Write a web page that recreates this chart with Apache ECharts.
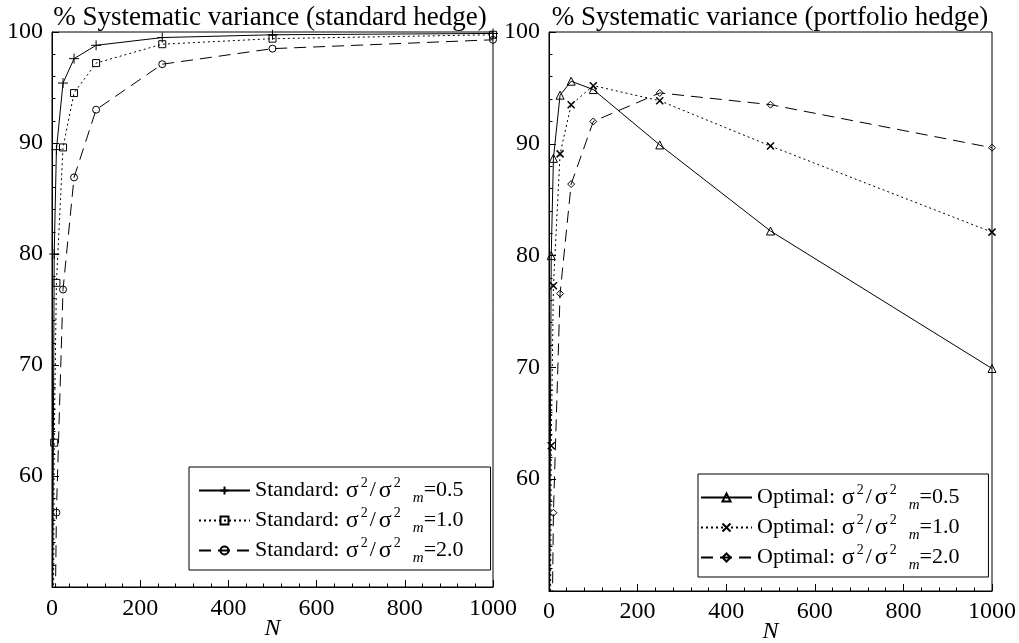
<!DOCTYPE html>
<html><head><meta charset="utf-8">
<script src="https://cdn.jsdelivr.net/npm/echarts@6/dist/echarts.min.js"></script>
<style>html,body{margin:0;padding:0;background:#fff}#c{width:1019px;height:643px}</style>
</head><body><div id="c"></div>
<script>
// ---- data ----
const N = [1, 5, 10, 25, 50, 100, 250, 500, 1000];
const std05 = [44.4, 80.0, 89.4, 95.4, 97.6, 98.8, 99.5, 99.75, 99.87];
const std10 = [25.4, 63.0, 77.4, 89.6, 94.5, 97.2, 98.9, 99.4, 99.75];
const std20 = [11.6, 39.6, 56.7, 76.8, 86.9, 93.0, 97.1, 98.5, 99.3];
const opt05 = [44.4, 80.0, 88.7, 94.35, 95.6, 94.85, 89.9, 82.2, 69.9];
const opt10 = [25.4, 63.0, 77.3, 89.1, 93.5, 95.2, 93.85, 89.8, 82.1];
const opt20 = [11.6, 39.6, 57.0, 76.6, 86.4, 92.0, 94.55, 93.5, 89.65];
const ratios = ['0.5', '1.0', '2.0'];
const titles = ['% Systematic variance (standard hedge)', '% Systematic variance (portfolio hedge)'];
const xName = 'N';

const F = "'Liberation Serif','DejaVu Serif',serif";
const BLACK = '#000';
const rich = {
  t: {fontFamily: F, fontSize: 22, lineHeight: 26, color: BLACK},
  g: {fontFamily: F, fontSize: 24, lineHeight: 26, color: BLACK, padding: [0, 1, 0, 1]},
  s: {fontFamily: F, fontSize: 22, lineHeight: 26, color: BLACK, padding: [0, 2, 0, 2]},
  sup: {fontFamily: F, fontSize: 14, lineHeight: 26, padding: [0, 0, 14, 1], color: BLACK},
  sub: {fontFamily: F, fontSize: 15, fontStyle: 'italic', lineHeight: 26, padding: [16, 0, 0, 12], color: BLACK}
};
function legendText(prefix, r) {
  return '{t|' + prefix + ': }{g|σ}{sup|2}{s|/}{g|σ}{sup|2}{sub|m}{t|=' + r + '}';
}

const PLUS = 'path://M5,0L5,10M0,5L10,5';
const CROSS = 'path://M0,0L10,10M10,0L0,10';
const dashes = ['solid', [2, 3], [12, 7]];
const stdSyms = [[PLUS, 10], ['rect', 7], ['circle', 7]];
const optSyms = [['triangle', 8], [CROSS, 7], ['diamond', 7]];

function mk(name, arr, idx, dash, sym, size, bw) {
  return {
    name: name, type: 'line', xAxisIndex: idx, yAxisIndex: idx,
    data: N.map((n, i) => [n, arr[i]]),
    symbol: sym, symbolSize: size, showAllSymbol: true, clip: true,
    lineStyle: {color: BLACK, width: 1, type: dash},
    itemStyle: {color: 'none', borderColor: BLACK, borderWidth: bw || 1},
    emphasis: {disabled: true}, silent: true
  };
}
const stdNames = ratios.map(r => 'Standard ' + r);
const optNames = ratios.map(r => 'Optimal ' + r);
const stdData = [std05, std10, std20];
const optData = [opt05, opt10, opt20];
const series = [];
for (let i = 0; i < 3; i++) series.push(mk(stdNames[i], stdData[i], 0, dashes[i], stdSyms[i][0], stdSyms[i][1]));
for (let i = 0; i < 3; i++) series.push(mk(optNames[i], optData[i], 1, dashes[i], optSyms[i][0], optSyms[i][1], i === 1 ? 1.5 : 1));

function xAx(idx, margin, gap) {
  return {
    gridIndex: idx, type: 'value', min: 0, max: 1000, interval: 200,
    axisLine: {show: true, onZero: false, lineStyle: {color: BLACK, width: 1}},
    axisTick: {show: true, inside: true, length: 7, lineStyle: {color: BLACK}},
    minorTick: {show: true, splitNumber: 5, length: 3.5, lineStyle: {color: BLACK}},
    splitLine: {show: false}, minorSplitLine: {show: false},
    axisLabel: {fontFamily: F, fontSize: 24, color: BLACK, margin: margin, formatter: v => String(v)},
    name: xName, nameLocation: 'middle', nameGap: gap, nameMoveOverlap: false,
    nameTextStyle: {fontFamily: F, fontStyle: 'italic', fontSize: 24, color: BLACK}
  };
}
function yAx(idx) {
  return {
    gridIndex: idx, type: 'value', min: 50, max: 100, interval: 10,
    axisLine: {show: true, onZero: false, lineStyle: {color: BLACK, width: 1}},
    axisTick: {show: true, inside: true, length: 7, lineStyle: {color: BLACK}},
    minorTick: {show: true, splitNumber: 5, length: 3.5, lineStyle: {color: BLACK}},
    splitLine: {show: false}, minorSplitLine: {show: false},
    axisLabel: {fontFamily: F, fontSize: 24, color: BLACK, margin: 9, showMinLabel: false, formatter: v => String(v)}
  };
}
function legend(names, prefix, left, top, pad) {
  const map = {};
  names.forEach((n, i) => map[n] = legendText(prefix, ratios[i]));
  return {
    orient: 'vertical', left: left, top: top, padding: pad, itemGap: -1,
    itemWidth: 51, itemHeight: 10,
    borderColor: BLACK, borderWidth: 1, backgroundColor: '#fff', borderRadius: 0,
    data: names, selectedMode: false,
    formatter: n => map[n],
    textStyle: {fontFamily: F, fontSize: 22, color: BLACK, rich: rich}
  };
}
const chart = echarts.init(document.getElementById('c'), null, {renderer: 'canvas'});
chart.setOption({
  animation: false,
  backgroundColor: '#fff',
  title: [
    {text: titles[0], left: 265, top: -1, textAlign: 'center',
     textStyle: {fontFamily: F, fontSize: 27, fontWeight: 'normal', color: BLACK}},
    {text: titles[1], left: 765, top: -1, textAlign: 'center',
     textStyle: {fontFamily: F, fontSize: 27, fontWeight: 'normal', color: BLACK}}
  ],
  grid: [
    {left: 52, right: 526, top: 32, bottom: 56, show: true, borderColor: BLACK, borderWidth: 1,
     containLabel: false, outerBoundsMode: 'none'},
    {left: 549, right: 27, top: 32, bottom: 52, show: true, borderColor: BLACK, borderWidth: 1,
     containLabel: false, outerBoundsMode: 'none'}
  ],
  xAxis: [xAx(0, 10, 30), xAx(1, 9, 29)],
  yAxis: [yAx(0), yAx(1)],
  legend: [
    legend(stdNames, 'Standard', 189, 467, [8, 27, 4, 9]),
    legend(optNames, 'Optimal', 698, 474, [8, 29, 4, 2])
  ],
  series: series
});
</script></body></html>
